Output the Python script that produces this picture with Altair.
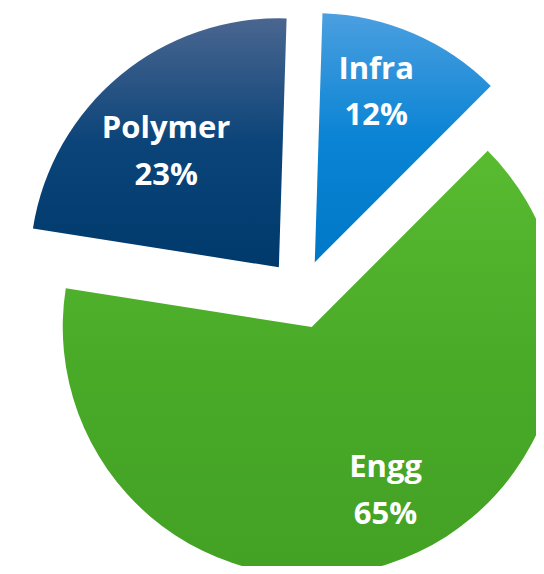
import altair as alt
import pandas as pd

categories = ["Infra", "Engg", "Polymer"]
shares = [12, 65, 23]
order = [1, 2, 3]

# layout / style parameters (pixels in chart coordinates)
CX, CY = 293, 286
R = 249
EXPLODE = 34.7
ROT = 0.031  # radians, slight clockwise start rotation

df = pd.DataFrame({"cat": categories, "share": shares, "ord": order})

base = alt.Chart(df).transform_window(
    cum="sum(share)", sort=[alt.SortField("ord")], frame=[None, 0]
).transform_joinaggregate(
    total="sum(share)"
).transform_calculate(
    t0=f"{ROT} + (datum.cum - datum.share) / datum.total * 2 * PI",
    t1=f"{ROT} + datum.cum / datum.total * 2 * PI",
    labr="datum.cat == 'Polymer' ? 161 : 180",
    labshift="datum.cat == 'Infra' ? 0.06 : (datum.cat == 'Engg' ? 0.108 : 0.084)",
).transform_calculate(
    mid="(datum.t0 + datum.t1) / 2"
).transform_calculate(
    px=f"{CX} + {EXPLODE} * sin(datum.mid)",
    py=f"{CY} - {EXPLODE} * cos(datum.mid)",
).transform_calculate(
    lx="datum.px + datum.labr * sin(datum.mid - datum.labshift)",
    ly="datum.py - datum.labr * cos(datum.mid - datum.labshift)",
    label="datum.cat + '\\n' + datum.share + '%'",
)

grads = {
    "Infra": ["#4b9fe0", "#0a84d4", "#0078c8"],
    "Engg": ["#58bb30", "#49aa28", "#43a124"],
    "Polymer": ["#4a6690", "#0b4479", "#003a6c"],
}

layers = []
for c in categories:
    g = grads[c]
    fill = alt.Gradient(
        gradient="linear",
        stops=[
            alt.GradientStop(color=g[0], offset=0),
            alt.GradientStop(color=g[1], offset=0.5),
            alt.GradientStop(color=g[2], offset=1),
        ],
        x1=0, x2=0, y1=0, y2=1,
    )
    layers.append(
        base.transform_filter(alt.datum.cat == c).mark_arc(
            fill=fill, radius=R, strokeWidth=0
        ).encode(
            x=alt.X("px:Q", scale=None),
            y=alt.Y("py:Q", scale=None),
            theta=alt.Theta("t0:Q", scale=None, stack=False),
            theta2=alt.Theta2("t1:Q"),
        )
    )

text = base.mark_text(
    font="Open Sans", fontWeight="bold", fontSize=31, color="white",
    lineBreak="\n", lineHeight=46.5, align="center", baseline="middle", dy=-23,
).encode(
    x=alt.X("lx:Q", scale=None),
    y=alt.Y("ly:Q", scale=None),
    text="label:N",
)

chart = alt.layer(*layers, text).properties(
    width=528, height=558,
    autosize=alt.AutoSizeParams(type="none"),
    padding=0,
).configure_view(stroke=None)

chart.save("out.html", embed_options={"renderer": "svg", "actions": False})
